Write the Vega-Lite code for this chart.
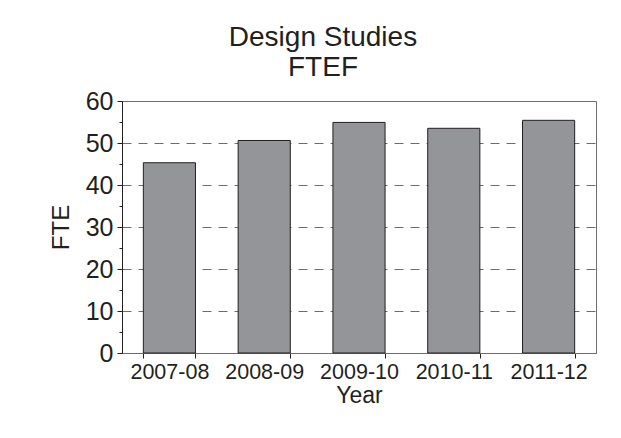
{
  "$schema": "https://vega.github.io/schema/vega-lite/v6.json",
  "width": 474,
  "height": 252,
  "autosize": "none",
  "padding": {"left": 122, "top": 101, "right": 25, "bottom": 85},
  "background": "white",
  "title": {
    "text": ["Design Studies", "FTEF"],
    "fontSize": 28,
    "fontWeight": "normal",
    "font": "Liberation Sans",
    "color": "#231f20",
    "lineHeight": 30,
    "dx": -36,
    "offset": 7,
    "anchor": "middle"
  },
  "config": {
    "view": {"stroke": "#6d6e71", "strokeWidth": 1},
    "font": "Liberation Sans"
  },
  "data": {
    "values": [
      {"Year": "2007-08", "FTE": 45.3},
      {"Year": "2008-09", "FTE": 50.6},
      {"Year": "2009-10", "FTE": 54.9},
      {"Year": "2010-11", "FTE": 53.5},
      {"Year": "2011-12", "FTE": 55.4}
    ]
  },
  "layer": [
    {
      "mark": {"type": "bar", "color": "#939598", "stroke": "#231f20", "strokeWidth": 1},
      "encoding": {
        "x": {
          "field": "Year",
          "type": "nominal",
          "sort": null,
          "scale": {"paddingInner": 0.45, "paddingOuter": 0.225},
          "axis": {
            "labelAngle": 0,
            "labelFontSize": 21.5,
            "labelColor": "#231f20",
            "tickBand": "extent",
            "tickSize": 5,
            "tickColor": "#231f20",
            "domainColor": "#6d6e71",
            "labelPadding": 3,
            "title": "Year",
            "titleFontSize": 23,
            "titleFontWeight": "normal",
            "titleColor": "#231f20",
            "titlePadding": 2
          }
        },
        "y": {
          "field": "FTE",
          "type": "quantitative",
          "scale": {"domain": [0, 60], "nice": false},
          "axis": {
            "values": [0, 10, 20, 30, 40, 50, 60],
            "labelFontSize": 25,
            "labelColor": "#231f20",
            "tickSize": 5,
            "tickColor": "#231f20",
            "domainColor": "#231f20",
            "labelPadding": 4,
            "grid": true,
            "gridDash": [9, 7],
            "gridColor": "#6d6e71",
            "gridWidth": 1,
            "title": "FTE",
            "titleFontSize": 24,
            "titleFontWeight": "normal",
            "titleColor": "#231f20",
            "titlePadding": 12
          }
        }
      }
    },
    {
      "mark": {"type": "bar", "opacity": 0},
      "encoding": {
        "x": {"field": "Year", "type": "nominal", "sort": null},
        "y": {
          "field": "FTE",
          "type": "quantitative",
          "axis": {
            "orient": "left",
            "values": [5, 15, 25, 35, 45, 55],
            "labels": false,
            "domain": false,
            "grid": false,
            "title": null,
            "tickSize": 3,
            "tickColor": "#231f20"
          }
        }
      }
    }
  ],
  "resolve": {"axis": {"y": "independent"}}
}
